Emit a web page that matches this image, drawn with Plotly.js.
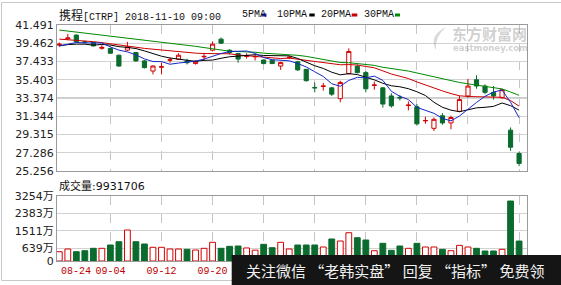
<!DOCTYPE html>
<html>
<head>
<meta charset="utf-8">
<script src="https://cdn.plot.ly/plotly-3.0.1.min.js"></script>
<style>html,body{margin:0;padding:0;background:#fff;}#chart{width:561px;height:285px;}</style>
</head>
<body>
<div id="chart"></div>
<script>
const dates = ['08-24','08-27','08-28','08-29','08-30','08-31','09-04','09-05','09-06','09-07',
'09-10','09-11','09-12','09-13','09-14','09-17','09-18','09-19','09-20','09-21',
'09-24','09-25','09-26','09-27','09-28','10-01','10-02','10-03','10-04','10-05',
'10-08','10-09','10-10','10-11','10-12','10-15','10-16','10-17','10-18','10-19',
'10-22','10-23','10-24','10-25','10-26','10-29','10-30','10-31','11-01','11-02',
'11-05','11-06','11-07','11-08','11-09'];

const open = [39.25,39.95,40.37,39.62,39.55,38.90,38.88,38.13,38.70,38.43,
37.50,36.37,36.80,37.58,37.68,37.50,37.20,37.95,38.69,39.92,
38.69,38.32,38.00,37.95,37.60,37.57,36.93,37.85,37.40,36.56,
34.55,34.65,34.50,33.30,36.08,36.90,36.20,34.78,34.50,33.60,
33.45,32.53,32.40,30.83,30.00,31.40,30.60,31.90,33.60,35.40,
34.70,34.00,33.40,29.80,27.20];
const high = [39.55,40.50,40.45,39.75,39.60,39.25,38.95,38.20,39.62,38.50,
37.60,37.00,37.30,37.90,38.35,37.75,37.55,38.40,39.66,40.10,
38.80,38.40,38.35,38.20,37.65,37.62,37.40,38.05,37.50,36.60,
35.10,35.05,34.60,35.30,38.90,37.10,36.40,35.20,34.60,33.90,
33.70,33.00,32.70,31.30,31.20,31.70,31.40,33.60,35.50,35.90,
34.90,34.70,34.40,30.10,27.40];
const low = [39.10,39.80,39.55,39.45,39.10,38.75,38.30,36.85,38.60,37.40,
36.65,36.00,36.00,37.30,37.60,37.10,37.10,37.50,38.60,39.40,
38.20,37.30,37.75,37.55,37.15,37.15,36.50,37.70,36.40,35.20,
34.00,34.20,33.60,32.90,36.00,36.10,34.00,34.30,32.30,32.30,
33.10,32.00,30.30,30.50,29.70,30.40,29.90,31.80,33.40,34.40,
33.80,33.20,33.30,27.50,25.80];
const close = [39.35,40.05,39.64,39.58,39.17,39.00,38.35,36.93,39.06,37.50,
36.75,36.93,36.85,37.62,38.13,37.30,37.45,38.00,39.36,39.47,
38.43,37.70,38.05,37.99,37.20,37.20,37.31,37.90,36.50,35.30,
34.50,34.70,33.80,35.10,38.55,36.20,34.40,34.82,32.70,32.50,
33.38,32.58,30.50,30.87,31.00,30.60,31.20,33.20,34.70,34.70,
34.00,33.60,34.30,27.90,26.10];

const ma5 = [39.17,39.36,39.55,39.50,39.50,39.49,39.05,38.70,38.50,38.17,
37.72,37.43,37.42,37.13,37.26,37.37,37.47,37.70,38.05,38.32,
38.54,38.59,38.60,38.33,37.87,37.63,37.55,37.51,37.21,36.83,
36.29,35.77,34.96,34.68,35.33,35.67,35.61,35.81,35.33,34.12,
33.56,33.20,32.33,31.97,31.67,31.11,30.83,31.37,32.14,32.88,
33.56,34.04,34.26,32.90,31.18];
const ma10 = [39.17,39.31,39.36,39.36,39.25,39.33,39.26,39.08,39.00,38.87,
38.61,38.29,38.02,37.82,37.72,37.55,37.45,37.56,37.59,37.79,
37.96,38.03,38.15,38.19,38.10,38.09,38.07,38.06,37.77,37.35,
36.96,36.66,36.24,35.95,36.08,35.98,35.69,35.39,35.01,34.73,
34.62,34.41,34.07,33.65,32.90,32.34,32.02,31.85,32.06,32.28,
32.34,32.44,32.82,32.52,32.03];
const ma20 = [39.92,39.87,39.81,39.72,39.64,39.53,39.42,39.31,39.15,39.02,
38.89,38.80,38.69,38.59,38.49,38.44,38.36,38.32,38.30,38.33,
38.29,38.16,38.09,38.01,37.91,37.82,37.76,37.81,37.68,37.57,
37.46,37.35,37.20,37.07,37.09,37.04,36.88,36.73,36.39,36.04,
35.79,35.54,35.16,34.80,34.49,34.16,33.86,33.62,33.54,33.51,
33.48,33.43,33.45,33.09,32.47];
const ma30 = [40.93,40.82,40.71,40.60,40.48,40.37,40.26,40.15,40.03,39.92,
39.81,39.70,39.59,39.48,39.36,39.25,39.12,38.98,38.82,38.68,
38.58,38.54,38.51,38.46,38.36,38.32,38.26,38.23,38.12,38.00,
37.84,37.66,37.47,37.32,37.30,37.21,37.07,37.00,36.79,36.62,
36.51,36.37,36.15,35.93,35.69,35.47,35.26,35.10,34.95,34.79,
34.64,34.50,34.38,34.04,33.67];

// volume in 万 shares
const volume = [463,598,463,513,632,632,797,961,1544,961,
847,682,682,598,598,581,548,632,931,632,
731,747,650,540,830,664,930,598,797,797,
797,697,1096,996,1409,1160,1046,513,881,533,
747,632,881,697,697,581,513,780,697,632,
498,498,581,2988,993];

const priceTicks = [25.256,27.286,29.315,31.344,33.374,35.403,37.433,39.462,41.491];
const volTicks = [0,639,1511,2383,3254];
const volTickText = ['0','639万','1511万','2383万','3254万'];
// gridline dates; labels after 09-20 are hidden under the banner in the reference
const xTickDates = ['09-04','09-12','09-20','09-28','10-08','10-16','10-24','11-01','11-09'];
const xTickLabels = ['09-04','09-12','09-20','','','','','',''];

const RED = '#d40000', GREEN = '#0b6b2e';
const MA_COLORS = {ma5:'#1428c8', ma10:'#000000', ma20:'#cc0000', ma30:'#008a00'};

// layout pixel helpers (plot area: left 57, right 527, top 25, bottom 261)
const L = 57, W = 470, B = 261, H = 236;
const px = x => (x - L) / W;
const py = y => (B - y) / H;

const up = close.map((c, i) => c >= open[i]);

const traces = [
  {type:'candlestick', x:dates, open:open, high:high, low:low, close:close,
   xaxis:'x', yaxis:'y', whiskerwidth:0, hoverinfo:'skip',
   increasing:{line:{color:RED, width:1}, fillcolor:'#ffffff'},
   decreasing:{line:{color:GREEN, width:1}, fillcolor:GREEN}},
  {type:'scatter', mode:'lines', x:dates, y:ma30, xaxis:'x', yaxis:'y', line:{color:MA_COLORS.ma30, width:1}, hoverinfo:'skip'},
  {type:'scatter', mode:'lines', x:dates, y:ma20, xaxis:'x', yaxis:'y', line:{color:MA_COLORS.ma20, width:1}, hoverinfo:'skip'},
  {type:'scatter', mode:'lines', x:dates, y:ma10, xaxis:'x', yaxis:'y', line:{color:MA_COLORS.ma10, width:1}, hoverinfo:'skip'},
  {type:'scatter', mode:'lines', x:dates, y:ma5, xaxis:'x', yaxis:'y', line:{color:MA_COLORS.ma5, width:1}, hoverinfo:'skip'},
  {type:'bar', x:dates, y:volume, xaxis:'x', yaxis:'y2', width:0.68, hoverinfo:'skip',
   marker:{color: up.map(u => u ? '#ffffff' : GREEN), line:{color: up.map(u => u ? RED : GREEN), width:1}}}
];

const monoFont = 'Liberation Mono, monospace';
const cjk = "Noto Sans CJK SC";

const legendItems = [
  {label:'5PMA', tx:240, m0:261.5, m1:266.5, color:MA_COLORS.ma5},
  {label:'10PMA', tx:275, m0:309.3, m1:314.7, color:MA_COLORS.ma10},
  {label:'20PMA', tx:319.3, m0:351.7, m1:357.3, color:MA_COLORS.ma20},
  {label:'30PMA', tx:362.3, m0:395, m1:400, color:MA_COLORS.ma30}
];

const annotations = [
  {xref:'paper', yref:'paper', x:px(57), y:py(15), xanchor:'left', yanchor:'middle', showarrow:false,
   text:'<span style="font-family:\'Noto Sans CJK SC\';font-size:12px">携程</span>[CTRP] 2018-11-10 09:00',
   font:{family:monoFont, size:10, color:'#111'}},
  {xref:'paper', yref:'paper', x:px(57), y:py(185), xanchor:'left', yanchor:'middle', showarrow:false,
   text:'<span style="font-family:\'Noto Sans CJK SC\';font-size:11px">成交量</span>:9931706',
   font:{family:'DejaVu Sans', size:11, color:'#111'}},
  {xref:'paper', yref:'paper', x:px(59), y:py(271), xanchor:'left', yanchor:'middle', showarrow:false,
   text:'08-24', font:{family:monoFont, size:10, color:'#c00000'}},
  {xref:'paper', yref:'paper', x:px(489), y:py(33.5), xanchor:'center', yanchor:'middle', showarrow:false, borderpad:0,
   text:'<b>东方财富网</b>', font:{family:cjk, size:15, color:'rgba(150,150,150,0.45)'}},
  {xref:'paper', yref:'paper', x:px(490), y:py(48), xanchor:'center', yanchor:'middle', showarrow:false, borderpad:0,
   text:'<b>eastmoney.com</b>', font:{family:'DejaVu Sans', size:8.5, color:'rgba(150,150,150,0.45)'}},
  {xref:'paper', yref:'paper', x:px(395), y:py(270.5), xanchor:'center', yanchor:'middle', showarrow:false,
   text:'关注微信 “老韩实盘” 回复 “指标” 免费领', font:{family:cjk, size:15, color:'#f0f0f0'}}
];
legendItems.forEach(it => annotations.push({xref:'paper', yref:'paper', x:px(it.tx), y:py(15), xanchor:'left', yanchor:'middle',
  showarrow:false, text:it.label, font:{family:monoFont, size:10, color:'#111'}}));

const shapes = [
  {type:'rect', xref:'paper', yref:'paper', x0:px(1.5), x1:px(575), y0:py(2.5), y1:py(280.5),
   line:{color:'#c8c8c8', width:1}, fillcolor:'rgba(0,0,0,0)', layer:'below'},
  {type:'line', xref:'x domain', yref:'y', x0:0, x1:1, y0:33.374, y1:33.374, line:{color:'#9a9a9a', width:1}, layer:'below'},
  {type:'rect', xref:'paper', yref:'paper', x0:px(231.7), x1:px(575), y0:py(255), y1:py(295),
   line:{width:0}, fillcolor:'#151515', layer:'above'},
  // watermark logo swirl
  {type:'path', xref:'paper', yref:'paper', layer:'above', line:{width:0}, fillcolor:'rgba(150,150,150,0.35)',
   path:`M ${px(446)} ${py(27)} Q ${px(428)} ${py(36)} ${px(436)} ${py(50)} Q ${px(434)} ${py(38)} ${px(446)} ${py(27)} Z`}
];
legendItems.forEach(it => shapes.push({type:'rect', xref:'paper', yref:'paper', x0:px(it.m0), x1:px(it.m1), y0:py(16.5), y1:py(13.5),
  line:{width:0}, fillcolor:it.color, layer:'above'}));

const layout = {
  width:561, height:285,
  margin:{l:57, r:34, t:25, b:24, pad:0},
  paper_bgcolor:'#ffffff', plot_bgcolor:'#ffffff',
  showlegend:false,
  xaxis:{type:'category', range:[-0.27, 54.93], anchor:'y2', domain:[0,1],
    tickmode:'array', tickvals:xTickDates, ticktext:xTickLabels,
    tickfont:{family:monoFont, size:10, color:'#c00000'},
    showgrid:true, gridcolor:'#c4c4c4', griddash:'dash', gridwidth:1,
    showline:true, linecolor:'#9a9a9a', linewidth:1, mirror:'all', ticks:'',
    rangeslider:{visible:false}, fixedrange:true},
  yaxis:{domain:[py(171), 1], range:[25.256, 41.491], tickmode:'array', tickvals:priceTicks,
    ticktext:priceTicks.map(v => v.toFixed(3)),
    tickfont:{family:'DejaVu Sans', size:11, color:'#222'},
    showgrid:true, gridcolor:'#d2d2d2', zeroline:false,
    showline:true, linecolor:'#9a9a9a', mirror:true, ticks:'', fixedrange:true},
  yaxis2:{domain:[0, py(195.7)], range:[0, 3254], tickmode:'array', tickvals:volTicks, ticktext:volTickText,
    tickfont:{family:'DejaVu Sans, Noto Sans CJK SC', size:11, color:'#222'},
    showgrid:true, gridcolor:'#d2d2d2', zeroline:false,
    showline:true, linecolor:'#9a9a9a', mirror:true, ticks:'', fixedrange:true},
  annotations:annotations,
  shapes:shapes,
  bargap:0.3
};

Plotly.newPlot('chart', traces, layout, {displayModeBar:false, staticPlot:true});
</script>
</body>
</html>
